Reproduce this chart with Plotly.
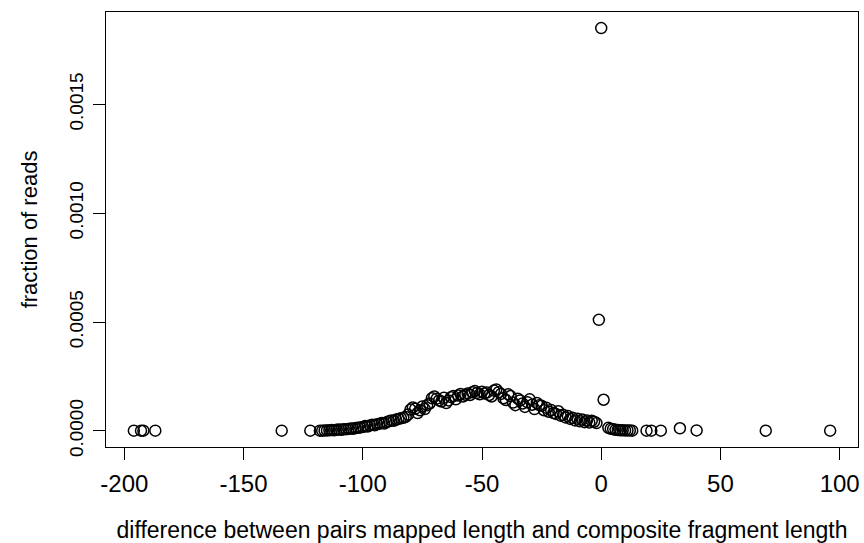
import plotly.graph_objects as go

# difference (x) and fraction of reads (y, in units of 1e-6)
diff_left = [-196, -193, -192, -187, -134, -122, -118, -117, -116]
frac_left = [1, 1, 1, 1, 1, 1, 1, 1, 2]

diff_main = list(range(-115, -1))
frac_main = [
    2, 3, 4, 3, 5, 6, 5, 7, 8, 9,            # -115 .. -106
    11, 10, 13, 14, 16, 18, 22, 20, 25, 28,  # -105 .. -96
    26, 31, 33, 36, 34, 40, 44, 48, 46, 52,  # -95 .. -86
    55, 58, 60, 64, 75, 98, 108, 102, 82, 95,  # -85 .. -76
    112, 100, 118, 126, 150, 158, 148, 140, 135, 152,  # -75 .. -66
    128, 140, 155, 160, 145, 162, 170, 158, 166, 172,  # -65 .. -56
    165, 178, 183, 175, 168, 180, 172, 176, 165, 158,  # -55 .. -46
    185, 190, 178, 170, 150, 142, 168, 160, 130, 118,  # -45 .. -36
    148, 140, 126, 110, 132, 145, 120, 100, 128, 118,  # -35 .. -26
    115, 95, 106, 88, 96, 82, 78, 90, 70, 74,  # -25 .. -16
    62, 68, 55, 60, 48, 56, 44, 52, 40, 48,    # -15 .. -6
    38, 46, 42, 36,                            # -5 .. -2
]

diff_right = [-1, 0, 1, 3, 4, 5, 6, 7, 8, 9, 10, 11, 12, 13, 19, 21, 25, 33, 40, 69, 96]
frac_right = [510, 1850, 143, 14, 10, 8, 5, 4, 3, 3, 2, 2, 2, 1, 1, 1, 1, 12, 2, 1, 1]

x_vals = diff_left + diff_main + diff_right
y_vals = [v * 1e-6 for v in frac_left + frac_main + frac_right]

x_ticks = [-200, -150, -100, -50, 0, 50, 100]
y_ticks = [0, 0.0005, 0.0010, 0.0015]
y_tick_labels = ["0.0000", "0.0005", "0.0010", "0.0015"]

x_title = "difference between pairs mapped length and composite fragment length"
y_title = "fraction of reads"

# R-style 4% range expansion
xmin, xmax = min(x_vals), max(x_vals)
ymin, ymax = min(y_vals), max(y_vals)
xpad = (xmax - xmin) * 0.04
ypad = (ymax - 0) * 0.04

fig = go.Figure(
    go.Scatter(
        x=x_vals, y=y_vals, mode="markers",
        marker=dict(symbol="circle-open", size=11, color="black",
                    line=dict(width=1.5, color="black")),
        showlegend=False,
    )
)

font_family = "Liberation Sans, Arial, sans-serif"

fig.update_layout(
    width=864, height=543,
    margin=dict(l=106, r=6, t=12, b=96, autoexpand=False),
    plot_bgcolor="white", paper_bgcolor="white",
    font=dict(family=font_family, color="black"),
    xaxis=dict(
        range=[xmin - xpad, xmax + xpad],
        tickvals=x_ticks, ticktext=[str(v) for v in x_ticks],
        ticks="outside", ticklen=12, tickwidth=1, tickcolor="black",
        ticklabelstandoff=3, automargin=False,
        showline=True, linecolor="black", linewidth=1, mirror=True,
        showgrid=False, zeroline=False,
        tickfont=dict(size=24),
        title=dict(text=x_title, font=dict(size=23), standoff=35),
    ),
    yaxis=dict(
        range=[0 - ypad, ymax + ypad],
        tickvals=y_ticks, ticktext=y_tick_labels, tickangle=-90,
        ticks="outside", ticklen=12, tickwidth=1, tickcolor="black",
        ticklabelstandoff=2, automargin=False,
        showline=True, linecolor="black", linewidth=1, mirror=True,
        showgrid=False, zeroline=False,
        tickfont=dict(size=19),
        title=dict(text=y_title, font=dict(size=22), standoff=22),
    ),
)

# remove the default page margin so the 864x543 figure fills the window exactly
fig.write_html(
    "out.html",
    config={"displayModeBar": False},
    post_script="document.body.style.margin='0';document.body.style.overflow='hidden';",
)
